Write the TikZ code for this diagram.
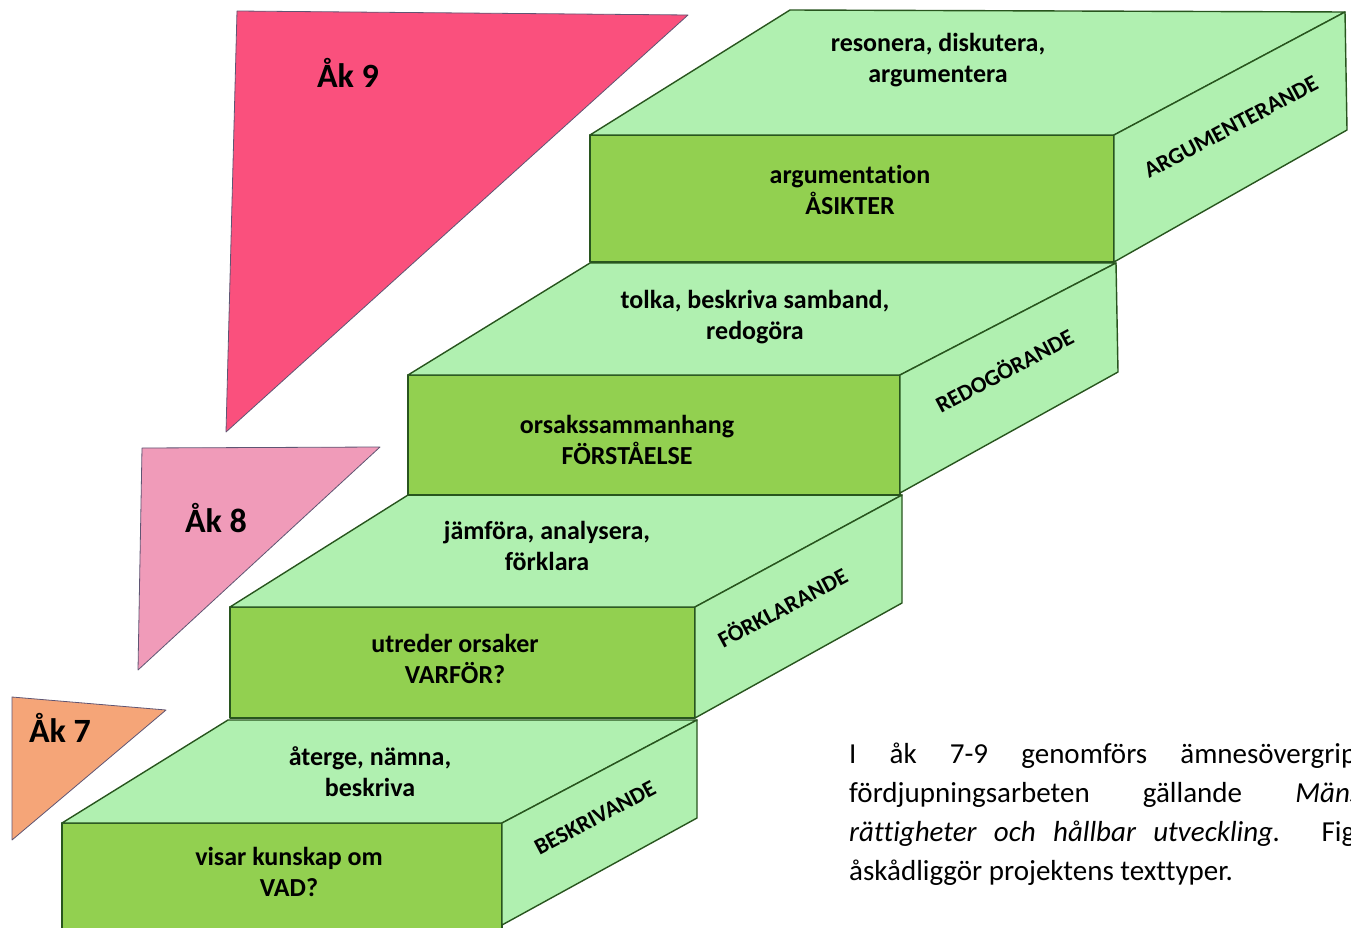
\documentclass[tikz,border=0pt]{standalone}
\usepackage{fontspec}
\setmainfont{Carlito}[Ligatures=NoCommon]
\usepackage{tikz}
\usetikzlibrary{calc}
\usepackage{xcolor}

\definecolor{frontgreen}{RGB}{146,208,80}
\definecolor{lightgreen}{RGB}{176,240,176}
\definecolor{edgegreen}{RGB}{40,85,30}
\definecolor{akninepink}{RGB}{250,80,125}
\definecolor{akeightpink}{RGB}{240,155,185}
\definecolor{aksevenorange}{RGB}{245,165,120}
\definecolor{trianglerim}{RGB}{95,85,115}

\begin{document}
\begin{tikzpicture}[x=1pt, y=-1pt,
  frontface/.style={fill=frontgreen, draw=edgegreen, line width=1.4pt, line join=round},
  lightface/.style={fill=lightgreen, draw=edgegreen, line width=1.4pt, line join=round},
  akfield/.style={draw=trianglerim, line width=0.8pt, line join=round},
  steptext/.style={font=\fontsize{26}{31}\selectfont\bfseries, align=center, inner sep=0},
  sidetext/.style={font=\fontsize{23}{27}\selectfont\bfseries, rotate=28, inner sep=0},
  aktext/.style={font=\fontsize{34}{40}\selectfont\bfseries, inner sep=0},
  bodytext/.style={font=\fontsize{29}{39}\selectfont, anchor=base west, inner sep=0}]

\useasboundingbox (0,0) rectangle (1351,928);

% grade triangles
\filldraw[akfield, fill=akninepink] (237,11) -- (688,15) -- (226,432) -- cycle;
\node[aktext] (ak9) at (348,73) {Åk 9};

\filldraw[akfield, fill=akeightpink] (142,448) -- (380,447) -- (138,670) -- cycle;
\node[aktext] (ak8) at (216,518) {Åk 8};

\filldraw[akfield, fill=aksevenorange] (12,697) -- (166,710) -- (12,840) -- cycle;
\node[aktext] (ak7) at (60,728) {Åk 7};

% step 1
\filldraw[frontface] (62,823) rectangle (502,940);
\filldraw[lightface] (62,823) -- (502,823) -- (697,720) -- (228,720) -- cycle;
\filldraw[lightface] (502,823) -- (697,720) -- (697,818) -- (502,925) -- cycle;

% step 2
\filldraw[frontface] (230,607) rectangle (695,718);
\filldraw[lightface] (230,607) -- (695,607) -- (902,495) -- (408,495) -- cycle;
\filldraw[lightface] (695,607) -- (902,495) -- (902,603) -- (695,718) -- cycle;

% step 3
\filldraw[frontface] (408,375) rectangle (900,495);
\filldraw[lightface] (408,375) -- (900,375) -- (1116,263) -- (590,263) -- cycle;
\filldraw[lightface] (900,375) -- (1116,263) -- (1118,372) -- (900,493) -- cycle;

% step 4
\filldraw[frontface] (590,135) rectangle (1114,262);
\filldraw[lightface] (590,135) -- (1114,135) -- (1345,12) -- (790,10) -- cycle;
\filldraw[lightface] (1114,135) -- (1345,12) -- (1347,130) -- (1114,262) -- cycle;

\node[steptext] (verb1) at (370,772) {återge, nämna,\\beskriva};
\node[steptext] (aim1) at (289,872) {visar kunskap om\\VAD?};
\node[sidetext] (type1) at (595,818) {BESKRIVANDE};

\node[steptext] (verb2) at (547,546) {jämföra, analysera,\\förklara};
\node[steptext] (aim2) at (455,659) {utreder orsaker\\VARFÖR?};
\node[sidetext] (type2) at (782,607) {FÖRKLARANDE};

\node[steptext] (verb3) at (755,317) {tolka, beskriva samband,\\redogöra};
\node[steptext] (aim3) at (627,440) {orsakssammanhang\\FÖRSTÅELSE};
\node[sidetext] (type3) at (1004,370) {REDOGÖRANDE};

\node[steptext] (verb4) at (938,60) {resonera, diskutera,\\argumentera};
\node[steptext] (aim4) at (850,190) {argumentation\\ÅSIKTER};
\node[sidetext] (type4) at (1231,127) {ARGUMENTERANDE};

% paragraph
\node[bodytext] (para1) at (849,763) {\makebox[507pt][s]{I åk 7-9 genomförs ämnesövergrip}};
\node[bodytext] (para2) at (849,802) {\makebox[512pt][s]{fördjupningsarbeten gällande \textit{Mäns}}};
\node[bodytext] (para3) at (849,841) {\makebox[506pt][s]{\textit{rättigheter och hållbar utveckling.} Fig}};
\node[bodytext] (para4) at (849,880) {åskådliggör projektens texttyper.};

\end{tikzpicture}
\end{document}
